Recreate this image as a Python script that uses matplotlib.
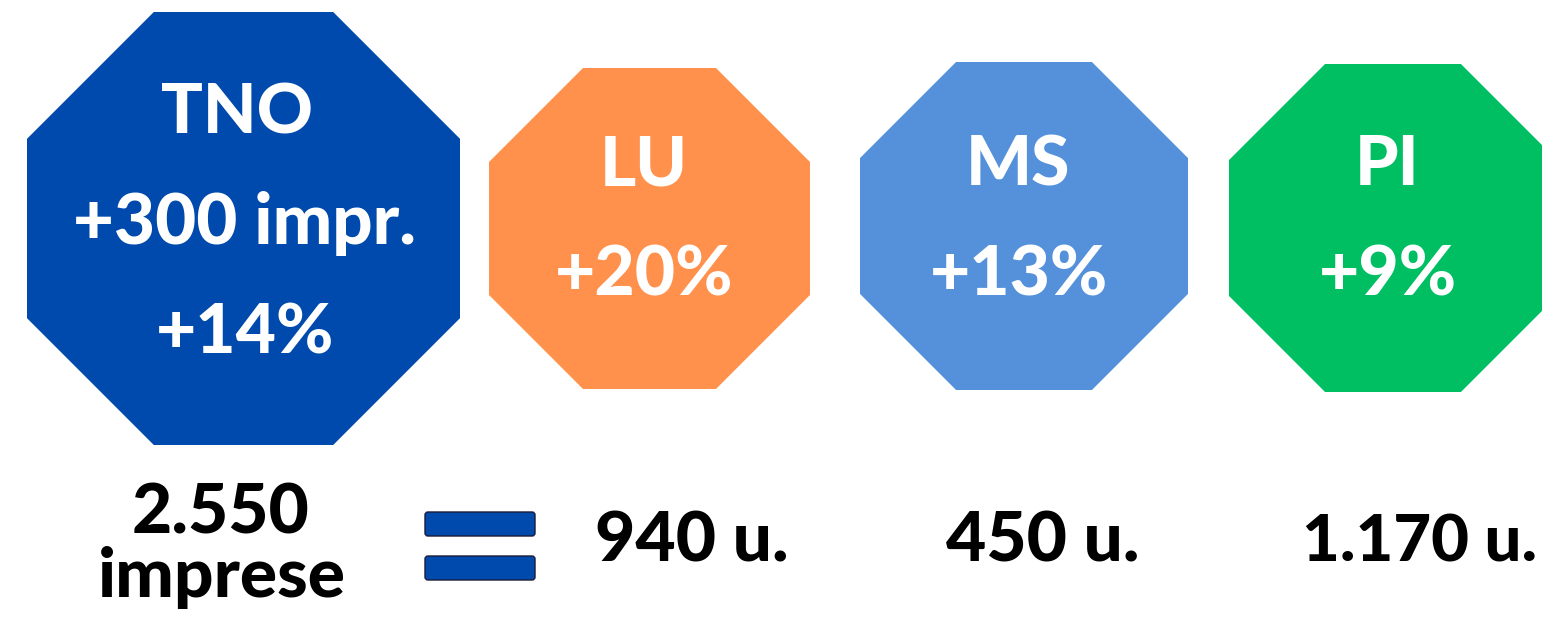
import matplotlib.pyplot as plt
from matplotlib.patches import Polygon, FancyBboxPatch
import numpy as np

# dati
regioni = ["TNO", "LU", "MS", "PI"]
righe_extra = ["+300 impr.", "", "", ""]
crescite = ["+14%", "+20%", "+13%", "+9%"]
unita = ["940 u.", "450 u.", "1.170 u."]
totale = "2.550"
totale_label = "imprese"
colori = ["#004AAD", "#FF914D", "#5591DB", "#00BF63"]

# posizione e lato di ogni ottagono (px)
ottagoni = [(27, 12, 433), (489, 68, 321), (860, 62, 328), (1229, 64, 328)]

plt.rcParams['font.family'] = ['Lato', 'DejaVu Sans']
W, H = 1542, 620
fig = plt.figure(figsize=(W / 100, H / 100), dpi=100)
ax = fig.add_axes([0, 0, 1, 1])
ax.set_xlim(0, W)
ax.set_ylim(H, 0)
ax.axis('off')


def ottagono(x0, y0, s):
    c = s / (2 + np.sqrt(2))
    pts = [(x0 + c, y0), (x0 + s - c, y0), (x0 + s, y0 + c), (x0 + s, y0 + s - c),
           (x0 + s - c, y0 + s), (x0 + c, y0 + s), (x0, y0 + s - c), (x0, y0 + c)]
    return Polygon(pts, closed=True, edgecolor='none')


bianco = dict(color='white', fontweight='black', ha='center', va='baseline')

for i, (x0, y0, s) in enumerate(ottagoni):
    p = ottagono(x0, y0, s)
    p.set_facecolor(colori[i])
    ax.add_patch(p)
    cx = x0 + s / 2
    if righe_extra[i]:
        ax.text(cx - 7, 134, regioni[i], fontsize=50, **bianco)
        ax.text(cx + 1, 244, righe_extra[i], fontsize=51, **bianco)
        ax.text(cx + 2, 353, crescite[i], fontsize=50, **bianco)
    else:
        ax.text(cx - 6, 185, regioni[i], fontsize=50, **bianco)
        ax.text(cx - 5, 296, crescite[i], fontsize=50, **bianco)

nero = dict(color='black', fontweight='black', va='baseline')
ax.text(221, 533, totale, fontsize=50, ha='center', **nero)
ax.text(222, 597, totale_label, fontsize=50, ha='center', **nero)

# segno uguale
for y in (512, 556):
    ax.add_patch(FancyBboxPatch((425, y), 110, 24, boxstyle="round,pad=0,rounding_size=3",
                                facecolor="#004AAD", edgecolor="#1b1b3a", linewidth=1))

ax.text(692, 562, unita[0], fontsize=50, ha='center', **nero)
ax.text(1043, 562, unita[1], fontsize=50, ha='center', **nero)
ax.text(1537, 561, unita[2], fontsize=47, ha='right', **nero)

fig.savefig("out.png", dpi=100)
